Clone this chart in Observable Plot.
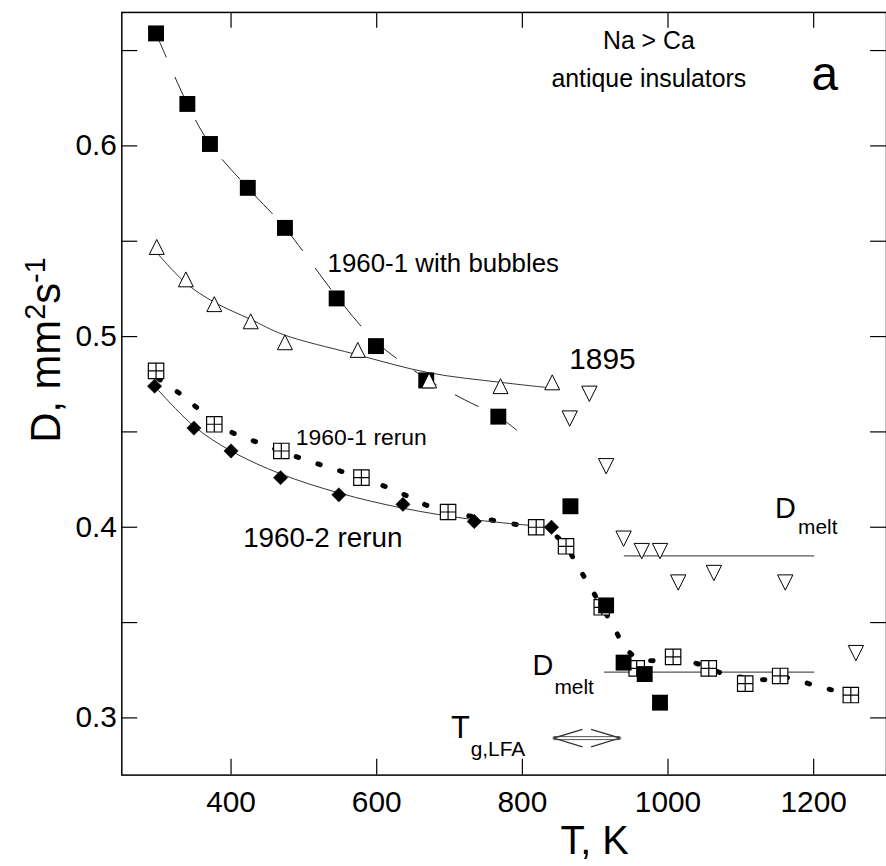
<!DOCTYPE html>
<html><head><meta charset="utf-8">
<script src="https://cdn.jsdelivr.net/npm/d3@7"></script>
<script src="https://cdn.jsdelivr.net/npm/@observablehq/plot@0.6"></script>
<style>
html,body{margin:0;padding:0;background:#fff;overflow:hidden}
#chart{width:886px;height:866px;overflow:hidden;position:relative}
</style></head><body><div id="chart"></div>
<script>
// ---- data (T in K, D in mm^2/s) ----
const filledSquares = [[297,0.659],[340,0.622],[371,0.601],[423,0.578],[474,0.557],[545,0.520],[599,0.495],[668,0.477],[767,0.458],[866,0.411],[915,0.359],[939,0.329],[968,0.323],[989,0.308]];
const upTriangles = [[298,0.547],[338,0.530],[377,0.517],[427,0.508],[474,0.497],[574,0.493],[672,0.477],[770,0.474],[841,0.476]];
const downTriangles = [[865,0.457],[892,0.470],[915,0.432],[939,0.394],[964,0.3875],[989,0.3875],[1014,0.371],[1063,0.376],[1161,0.371],[1258,0.334]];
const crossedSquares = [[297,0.482],[377,0.454],[469,0.440],[579,0.426],[698,0.408],[819,0.400],[860,0.390],[909,0.358],[957,0.326],[1007,0.332],[1056,0.326],[1106,0.318],[1154,0.322],[1251,0.312]];
const diamonds = [[295,0.474],[349,0.452],[400,0.440],[468,0.426],[548,0.417],[636,0.412],[734,0.403],[840,0.400]];

// fitted curves
const dashedCurve = [[297,0.659],[340,0.622],[371,0.601],[423,0.578],[474,0.557],[545,0.521],[600,0.497],[668,0.478],[720,0.467],[767,0.458],[792,0.451]];
const triangleCurve = [[298,0.544],[338,0.528],[377,0.518],[427,0.509],[472,0.501],[568,0.491],[672,0.481],[770,0.476],[841,0.473]];
const diamondCurve = [[295,0.474],[349,0.453],[400,0.440],[468,0.428],[548,0.418],[636,0.410],[733,0.404],[840,0.400]];
const dottedCurve = [[300,0.478],[330,0.470],[390,0.452],[447,0.443],[505,0.435],[562,0.428],[621,0.420],[679,0.410],[740,0.405],[797,0.401],[840,0.397],[860,0.390],[874,0.381],[891,0.370],[925,0.348],[941,0.337],[960,0.331],[991,0.330],[1021,0.330],[1044,0.328],[1078,0.323],[1135,0.320],[1167,0.321],[1193,0.318],[1222,0.315],[1250,0.312]];
const dMeltUpper = [[940,0.385],[1200,0.385]];
const dMeltLower = [[913,0.324],[1200,0.324]];
const tgRange = [[843,0.2894],[934,0.2894]];

const xTicks = [400,600,800,1000,1200];
const yTicks = [0.30,0.35,0.40,0.45,0.50,0.55,0.60,0.65];
const yLabels = [0.3,0.4,0.5,0.6];

const annotationText = ["Na > Ca","antique insulators","a","1960-1 with bubbles","1895","1960-1 rerun","1960-2 rerun","D","melt","D","melt","T","g,LFA"];
const annotationT = [973.7,973.7,1215.3,532.6,864.4,489,416.6,1147,1178.5,814,844,702,729];
const annotationD = [0.6507,0.6309,0.6293,0.5339,0.4828,0.4431,0.3894,0.4051,0.3962,0.3227,0.3128,0.2893,0.2799];

// ---- styles ----
const annotationSize = [25,25,48,26,30,23,28,29,21,29,21,31,21];
const annotationAnchor = ["middle","middle","middle","start","start","start","start","start","start","start","start","start","start"];
const FONT = "'Liberation Sans', Arial, Helvetica, sans-serif";

const sym = fn => ({draw(ctx, size){ const r = Math.sqrt(size/Math.PI); fn(ctx, r); }});
const squareSym = sym((c,r)=>{c.rect(-r,-r,2*r,2*r);});
const crossSym = sym((c,r)=>{c.rect(-r,-r,2*r,2*r); c.moveTo(-r,0); c.lineTo(r,0); c.moveTo(0,-r); c.lineTo(0,r);});
const triUp = sym((c,r)=>{c.moveTo(0,-r); c.lineTo(r,r); c.lineTo(-r,r); c.closePath();});
const triDown = sym((c,r)=>{c.moveTo(-r,-r); c.lineTo(r,-r); c.lineTo(0,r); c.closePath();});
const diamondSym = sym((c,r)=>{c.moveTo(0,-r); c.lineTo(r,0); c.lineTo(0,r); c.lineTo(-r,0); c.closePath();});
// open chevron heads, tip at the symbol origin
const headLeft = sym((c,r)=>{c.moveTo(r,-0.3*r); c.lineTo(0,0); c.lineTo(r,0.3*r);});
const headRight = sym((c,r)=>{c.moveTo(-r,-0.3*r); c.lineTo(0,0); c.lineTo(-r,0.3*r);});

const W = 891, H = 866, ML = 122, MR = 0, MT = 12, MB = 87;
const FW = W - ML - MR, FH = H - MT - MB, TICK = 16;
const X = d => d[0], Y = d => d[1];

const annotations = annotationText.map((label,i)=>({label, T: annotationT[i], D: annotationD[i]}));

const svg = Plot.plot({
  width: W, height: H,
  marginLeft: ML, marginRight: MR, marginTop: MT, marginBottom: MB,
  x: {domain: [250,1300]},
  y: {domain: [0.27,0.67]},
  style: {fontFamily: FONT, background: "white", color: "black", overflow: "hidden"},
  marks: [
    Plot.ruleX(xTicks, {insetTop: FH - TICK, stroke: "black", strokeWidth: 1.2}),
    Plot.ruleX(xTicks, {insetBottom: FH - TICK, stroke: "black", strokeWidth: 1.2}),
    Plot.ruleY(yTicks, {insetRight: FW - TICK, stroke: "black", strokeWidth: 1.2}),
    Plot.ruleY(yTicks, {insetLeft: FW - TICK, stroke: "black", strokeWidth: 1.2}),
    Plot.axisX(xTicks, {tickSize: 0, tickPadding: 16, fontSize: 30, label: null, tickFormat: d => String(d)}),
    Plot.axisY(yLabels, {tickSize: 0, tickPadding: 5, fontSize: 30, label: null, tickFormat: d => d.toFixed(1)}),
    Plot.line(dMeltUpper, {x: X, y: Y, stroke: "#555", strokeWidth: 1.3}),
    Plot.line(dMeltLower, {x: X, y: Y, stroke: "#555", strokeWidth: 1.3}),
    Plot.line(dottedCurve, {x: X, y: Y, curve: "catmull-rom", stroke: "black", strokeWidth: 5, strokeLinecap: "round", strokeDasharray: "2.5,20.5"}),
    Plot.line(dashedCurve, {x: X, y: Y, curve: "catmull-rom", stroke: "#222", strokeWidth: 1, strokeDasharray: "26,22"}),
    Plot.line(triangleCurve, {x: X, y: Y, curve: "catmull-rom", stroke: "#333", strokeWidth: 1}),
    Plot.line(diamondCurve, {x: X, y: Y, curve: "catmull-rom", stroke: "#333", strokeWidth: 1}),
    // T_g,LFA double arrow: hollow shaft + open heads
    Plot.line(tgRange, {x: X, y: Y, stroke: "#555", strokeWidth: 1, dy: -1.5}),
    Plot.line(tgRange, {x: X, y: Y, stroke: "#555", strokeWidth: 1, dy: 1.5}),
    Plot.dot([tgRange[0]], {x: X, y: Y, symbol: headLeft, r: 29, fill: "none", stroke: "#333", strokeWidth: 1.3}),
    Plot.dot([tgRange[1]], {x: X, y: Y, symbol: headRight, r: 29, fill: "none", stroke: "#333", strokeWidth: 1.3}),
    Plot.dot(crossedSquares, {x: X, y: Y, symbol: crossSym, r: 7.75, fill: "white", stroke: "black", strokeWidth: 1.2}),
    Plot.dot(diamonds, {x: X, y: Y, symbol: diamondSym, r: 7.2, fill: "black", stroke: "black", strokeWidth: 0.5}),
    Plot.dot(filledSquares, {x: X, y: Y, symbol: squareSym, r: 8, fill: "black", stroke: "none"}),
    Plot.dot(upTriangles, {x: X, y: Y, symbol: triUp, r: 7.5, fill: "white", stroke: "black", strokeWidth: 1}),
    Plot.dot(downTriangles, {x: X, y: Y, symbol: triDown, r: 7.7, fill: "white", stroke: "black", strokeWidth: 1}),
    ...annotations.map((a,i) => Plot.text([a], {x: "T", y: "D", text: "label", fontSize: annotationSize[i], textAnchor: annotationAnchor[i], lineAnchor: "bottom", fill: "black"})),
    Plot.frame({stroke: "black", strokeWidth: 1.5})
  ]
});

// axis titles with super-scripts
const s = d3.select(svg);
s.append("text").attr("x", 598).attr("y", 859).attr("text-anchor", "middle")
  .attr("font-size", 40).attr("font-family", FONT).attr("fill", "black").text("T, K");
const yt = s.append("text").attr("transform", "translate(60,352) rotate(-90)").attr("text-anchor", "middle")
  .attr("font-size", 42).attr("font-family", FONT).attr("fill", "black");
yt.append("tspan").text("D, mm");
yt.append("tspan").attr("dy", -15).attr("font-size", 29).text("2");
yt.append("tspan").attr("dy", 15).text("s");
yt.append("tspan").attr("dy", -15).attr("font-size", 29).text("-1");

document.getElementById("chart").appendChild(svg);
</script></body></html>
